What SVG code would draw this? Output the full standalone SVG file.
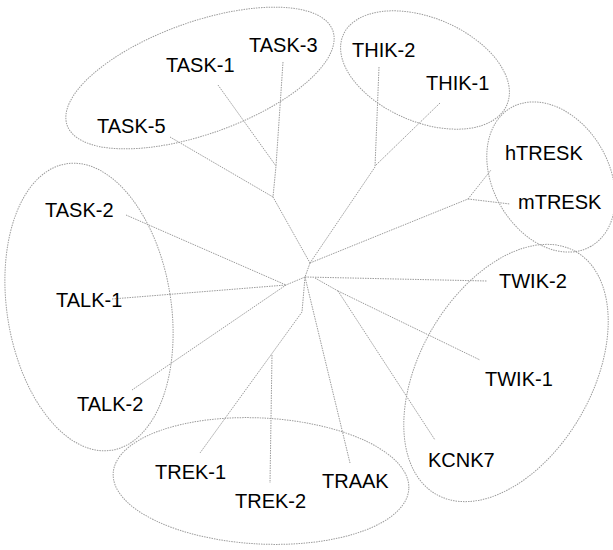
<svg xmlns="http://www.w3.org/2000/svg" width="613" height="550" viewBox="0 0 613 550">
<style>
.bg{fill:#fff}
.cl{fill:none;stroke:#9c9c9c;stroke-width:1;stroke-dasharray:1.5 1}
.ln{fill:none;stroke:#9c9c9c;stroke-width:1;stroke-dasharray:1.5 1}
.lb{font-family:"Liberation Sans",Arial,sans-serif;font-size:20px;fill:#000}
</style>
<rect class="bg" x="0" y="0" width="613" height="550"/>
<g id="clusters">
<ellipse id="cl-task" class="cl" cx="200" cy="78" rx="141" ry="56" transform="rotate(-19.6 200 78)"/>
<ellipse id="cl-thik" class="cl" cx="425" cy="70" rx="89" ry="52" transform="rotate(23 425 70)"/>
<ellipse id="cl-tresk" class="cl" cx="551" cy="177" rx="80" ry="58" transform="rotate(60 551 177)"/>
<ellipse id="cl-twik" class="cl" cx="506" cy="373" rx="140" ry="86" transform="rotate(-60 506 373)"/>
<ellipse id="cl-talk" class="cl" cx="89" cy="307" rx="82" ry="145" transform="rotate(-9 89 307)"/>
<ellipse id="cl-trek" class="cl" cx="261" cy="481" rx="148" ry="63" transform="rotate(3 261 481)"/>
</g>
<g id="connectors">
<polyline class="ln" points="283,62 276,166 273,197 310,263"/>
<line class="ln" x1="218" y1="85" x2="276" y2="166"/>
<line class="ln" x1="170" y1="137" x2="273" y2="197"/>
<polyline class="ln" points="379,67 375,167 310,263"/>
<line class="ln" x1="440" y1="103" x2="375" y2="166"/>
<line class="ln" x1="310" y1="263" x2="468" y2="199"/>
<line class="ln" x1="468" y1="199" x2="510" y2="204"/>
<line class="ln" x1="468" y1="199" x2="491" y2="170"/>
<polyline class="ln" points="310,263 305,277 286,285"/>
<line class="ln" x1="126" y1="215" x2="286" y2="285"/>
<line class="ln" x1="112" y1="299" x2="286" y2="285"/>
<line class="ln" x1="132" y1="390" x2="286" y2="285"/>
<polyline class="ln" points="305,277 302,312 200,453"/>
<line class="ln" x1="272" y1="355" x2="270" y2="483"/>
<line class="ln" x1="305" y1="277" x2="350" y2="463"/>
<line class="ln" x1="305" y1="277" x2="487" y2="281"/>
<line class="ln" x1="315" y1="278" x2="338" y2="291"/>
<line class="ln" x1="338" y1="291" x2="480" y2="360"/>
<line class="ln" x1="338" y1="291" x2="435" y2="440"/>
</g>
<g id="TASK-3"><text class="lb" x="249" y="52">TASK-3</text></g>
<g id="TASK-1"><text class="lb" x="166" y="72">TASK-1</text></g>
<g id="TASK-5"><text class="lb" x="97" y="133">TASK-5</text></g>
<g id="TASK-2"><text class="lb" x="45" y="217">TASK-2</text></g>
<g id="TALK-1"><text class="lb" x="56" y="307">TALK-1</text></g>
<g id="TALK-2"><text class="lb" x="77" y="411">TALK-2</text></g>
<g id="TREK-1"><text class="lb" x="155" y="479">TREK-1</text></g>
<g id="TREK-2"><text class="lb" x="235" y="508">TREK-2</text></g>
<g id="TRAAK"><text class="lb" x="322" y="488">TRAAK</text></g>
<g id="KCNK7"><text class="lb" x="428" y="467">KCNK7</text></g>
<g id="TWIK-1"><text class="lb" x="485" y="386">TWIK-1</text></g>
<g id="TWIK-2"><text class="lb" x="499" y="288">TWIK-2</text></g>
<g id="THIK-2"><text class="lb" x="352" y="57">THIK-2</text></g>
<g id="THIK-1"><text class="lb" x="426" y="90">THIK-1</text></g>
<g id="hTRESK"><text class="lb" x="505" y="160">hTRESK</text></g>
<g id="mTRESK"><text class="lb" x="518" y="209">mTRESK</text></g>
</svg>
